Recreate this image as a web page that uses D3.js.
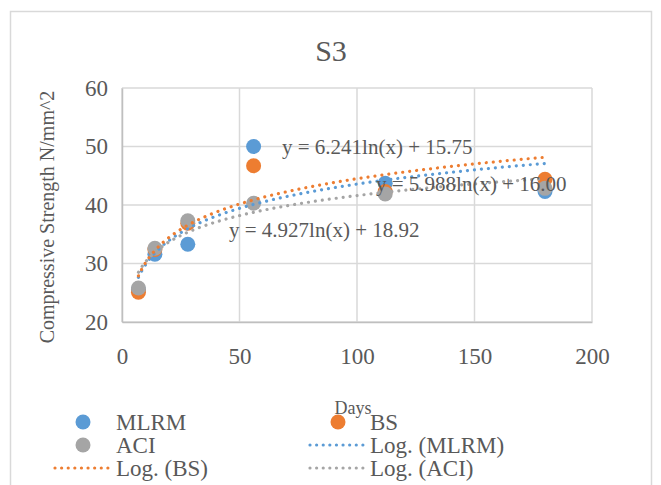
<!DOCTYPE html>
<html><head><meta charset="utf-8">
<script src="https://cdn.jsdelivr.net/npm/d3@7"></script>
<style>body{margin:0;background:#fff}svg{display:block}</style>
</head><body>
<script>
const days = [7, 14, 28, 56, 112, 180];
const mlrm = [25.5, 31.6, 33.3, 50.0, 43.7, 42.3];
const bs   = [25.1, 32.4, 36.9, 46.7, 42.3, 44.4];
const aci  = [25.8, 32.6, 37.3, 40.3, 41.9, 42.85];
// logarithmic trendline coefficients shown on the chart: y = a ln(x) + b
const fitMLRM = {a: 5.988, b: 16.00, label: "y = 5.988ln(x) + 16.00"};
const fitBS   = {a: 6.241, b: 15.75, label: "y = 6.241ln(x) + 15.75"};
const fitACI  = {a: 4.927, b: 18.92, label: "y = 4.927ln(x) + 18.92"};
const xTicks = [0, 50, 100, 150, 200];
const yTicks = [20, 30, 40, 50, 60];

const W = 661, H = 485;
const C = {blue: "#5b9bd5", orange: "#ed7d31", gray: "#a5a5a5", text: "#595959", grid: "#d9d9d9"};
const font = "'Liberation Serif', 'Times New Roman', serif";

const svg = d3.select("body").append("svg").attr("width", W).attr("height", H);
svg.append("rect").attr("x", 10.5).attr("y", 11.5).attr("width", 641).attr("height", 490)
  .attr("fill", "#fff").attr("stroke", "#d9d9d9").attr("stroke-width", 1.5);

const x = d3.scaleLinear().domain([0, 200]).range([122, 592]);
const y = d3.scaleLinear().domain([20, 60]).range([322, 88]);

svg.append("text").attr("x", 331).attr("y", 61).attr("text-anchor", "middle")
  .attr("font-family", font).attr("font-size", 30).attr("fill", C.text).text("S3");

// grid
const g = svg.append("g");
g.selectAll(".gy").data(yTicks).join("line")
  .attr("x1", x(0)).attr("x2", x(200)).attr("y1", d => y(d)).attr("y2", d => y(d))
  .attr("stroke", C.grid).attr("stroke-width", 1.5);
g.selectAll(".gx").data(xTicks).join("line")
  .attr("y1", y(20)).attr("y2", y(60)).attr("x1", d => x(d)).attr("x2", d => x(d))
  .attr("stroke", C.grid).attr("stroke-width", 1.5);

// axes (labels only)
const ax = svg.append("g").attr("transform", `translate(0,${y(20)})`)
  .call(d3.axisBottom(x).tickValues(xTicks).tickSize(0).tickPadding(26));
const ay = svg.append("g").attr("transform", `translate(${x(0)},0)`)
  .call(d3.axisLeft(y).tickValues(yTicks).tickSize(0).tickPadding(14));
[ax, ay].forEach(a => {
  a.select(".domain").attr("stroke", "#bfbfbf").attr("stroke-width", 1.5);
  a.selectAll("text").attr("font-family", font).attr("font-size", 23).attr("fill", C.text);
});

svg.append("text").attr("transform", "translate(54,217) rotate(-90)").attr("text-anchor", "middle")
  .attr("font-family", font).attr("font-size", 20).attr("fill", C.text).text("Compressive Strength N/mm^2");
svg.append("text").attr("x", 353).attr("y", 414).attr("text-anchor", "middle")
  .attr("font-family", font).attr("font-size", 18).attr("fill", C.text).text("Days");

// markers
const series = [
  {name: "MLRM", vals: mlrm, color: C.blue, fit: fitMLRM},
  {name: "BS", vals: bs, color: C.orange, fit: fitBS},
  {name: "ACI", vals: aci, color: C.gray, fit: fitACI}
];
series.forEach(s => {
  svg.append("g").selectAll("circle").data(days).join("circle")
    .attr("cx", d => x(d)).attr("cy", (d, i) => y(s.vals[i])).attr("r", 7.5).attr("fill", s.color);
});

// trendlines
const xs = d3.range(7, 180.01, 0.5);
series.forEach(s => {
  const line = d3.line().x(d => x(d)).y(d => y(s.fit.a * Math.log(d) + s.fit.b));
  svg.append("path").datum(xs).attr("d", line).attr("fill", "none").attr("stroke", s.color)
    .attr("stroke-width", 3.2).attr("stroke-linecap", "round").attr("stroke-dasharray", "0.01 7");
});

// equation labels
const eq = [
  {t: fitBS.label, x: 282, y: 154},
  {t: fitMLRM.label, x: 376, y: 191},
  {t: fitACI.label, x: 229, y: 237}
];
svg.append("g").selectAll("text").data(eq).join("text")
  .attr("x", d => d.x).attr("y", d => d.y).attr("font-family", font).attr("font-size", 21)
  .attr("fill", C.text).text(d => d.t);

// legend
const leg = [
  {label: "MLRM", color: C.blue, type: "dot", x: 83, tx: 116, y: 422},
  {label: "BS", color: C.orange, type: "dot", x: 338, tx: 370, y: 422},
  {label: "ACI", color: C.gray, type: "dot", x: 83, tx: 116, y: 445},
  {label: "Log. (MLRM)", color: C.blue, type: "line", x: 336, tx: 370, y: 445},
  {label: "Log. (BS)", color: C.orange, type: "line", x: 81, tx: 116, y: 468},
  {label: "Log. (ACI)", color: C.gray, type: "line", x: 336, tx: 370, y: 468}
];
const lg = svg.append("g");
leg.forEach(d => {
  if (d.type === "dot") {
    lg.append("circle").attr("cx", d.x).attr("cy", d.y).attr("r", 7.5).attr("fill", d.color);
  } else {
    lg.append("line").attr("x1", d.x - 26).attr("x2", d.x + 27).attr("y1", d.y).attr("y2", d.y)
      .attr("stroke", d.color).attr("stroke-width", 3.2).attr("stroke-linecap", "round")
      .attr("stroke-dasharray", "0.01 6.6");
  }
  lg.append("text").attr("x", d.tx).attr("y", d.y + 8).attr("font-family", font).attr("font-size", 23)
    .attr("fill", C.text).text(d.label);
});
</script>
</body></html>
